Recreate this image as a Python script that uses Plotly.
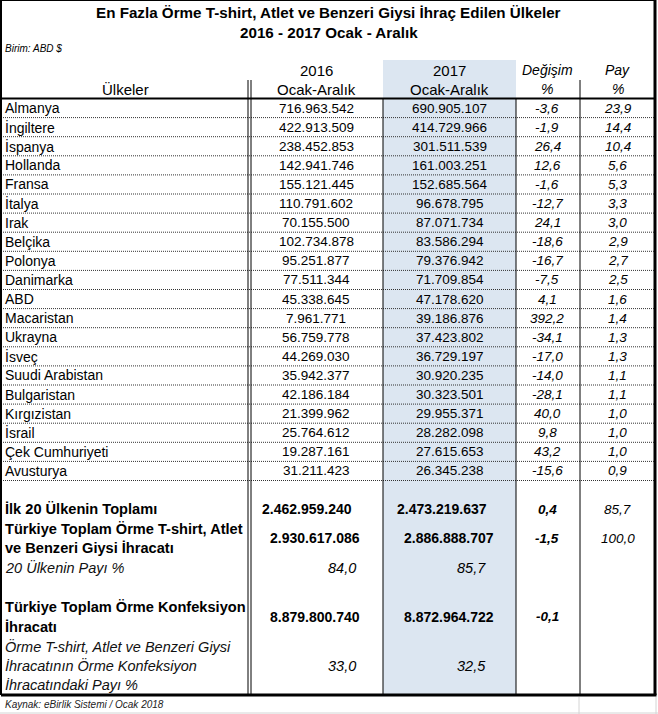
import plotly.graph_objects as go

# ---------------- data ----------------
title_1 = "En Fazla Örme T-shirt, Atlet ve Benzeri Giysi İhraç Edilen Ülkeler"
title_2 = "2016 - 2017 Ocak - Aralık"
unit_note = "Birim: ABD $"
source_note = "Kaynak: eBirlik Sistemi / Ocak 2018"

countries = ["Almanya", "İngiltere", "İspanya", "Hollanda", "Fransa", "İtalya", "Irak",
             "Belçika", "Polonya", "Danimarka", "ABD", "Macaristan", "Ukrayna", "İsveç",
             "Suudi Arabistan", "Bulgaristan", "Kırgızistan", "İsrail", "Çek Cumhuriyeti",
             "Avusturya"]
exports_2016 = [716963542, 422913509, 238452853, 142941746, 155121445, 110791602, 70155500,
                102734878, 95251877, 77511344, 45338645, 7961771, 56759778, 44269030,
                35942377, 42186184, 21399962, 25764612, 19287161, 31211423]
exports_2017 = [690905107, 414729966, 301511539, 161003251, 152685564, 96678795, 87071734,
                83586294, 79376942, 71709854, 47178620, 39186876, 37423802, 36729197,
                30920235, 30323501, 29955371, 28282098, 27615653, 26345238]
change_pct = [-3.6, -1.9, 26.4, 12.6, -1.6, -12.7, 24.1, -18.6, -16.7, -7.5, 4.1, 392.2,
              -34.1, -17.0, -14.0, -28.1, 40.0, 9.8, 43.2, -15.6]
share_pct = [23.9, 14.4, 10.4, 5.6, 5.3, 3.3, 3.0, 2.9, 2.7, 2.5, 1.6, 1.4, 1.3, 1.3, 1.1,
             1.1, 1.0, 1.0, 1.0, 0.9]

top20_total = [2462959240, 2473219637]
top20_change = 0.4
top20_share = 85.7
turkey_total = [2930617086, 2886888707]
turkey_change = -1.5
turkey_share = 100.0
top20_share_of_total = [84.0, 85.7]
knit_apparel_total = [8879800740, 8872964722]
knit_apparel_change = -0.1
tshirt_share_of_knit = [33.0, 32.5]

header_years = ["2016", "2017"]
header_period = "Ocak-Aralık"


def fmt_int(v):
    return f"{v:,}".replace(",", ".")


def fmt_dec(v):
    return f"{v:.1f}".replace(".", ",")


# ---------------- layout geometry ----------------
W, H = 658, 714
X_L, X_C1, X_C2, X_C3, X_C4, X_R = 1, 249.5, 383, 516, 580, 655
HEAD_TOP, HEAD_BOT = 60, 98.5
ROW_H = 19.1
BOT_TOP, BOT_H = 509, 19.6
TABLE_BOT = 695

FONT = "Liberation Sans, Arial, sans-serif"
SHADE = "#dce6f1"

col_mid = {
    "name": 3,
    "y16": (X_C1 + X_C2) / 2,
    "y17": (X_C2 + X_C3) / 2,
    "chg": (X_C3 + X_C4) / 2 - 1,
    "pay": (X_C4 + X_R) / 2,
}

fig = go.Figure()
fig.add_trace(go.Scatter(x=[0, W], y=[0, H], mode="markers", marker=dict(opacity=0),
                         hoverinfo="skip", showlegend=False))

shapes = []
annots = []


def txt(x, y, s, size=14, xanchor="center", color="black"):
    annots.append(dict(x=x, y=y, xref="x", yref="y", text=s, showarrow=False,
                       xanchor=xanchor, yanchor="middle",
                       font=dict(family=FONT, size=size, color=color)))


def line(x0, y0, x1, y1, width=1, color="black", dash="solid"):
    shapes.append(dict(type="line", xref="x", yref="y", x0=x0, y0=y0, x1=x1, y1=y1,
                       line=dict(color=color, width=width, dash=dash), layer="above"))


# shaded 2017 column
shapes.append(dict(type="rect", xref="x", yref="y", x0=X_C2, x1=X_C3, y0=HEAD_TOP,
                   y1=TABLE_BOT, fillcolor=SHADE, line=dict(width=0), layer="below"))

# titles
txt(W / 2 - 1, 12, f"<b>{title_1}</b>", size=15.2)
txt(W / 2, 32, f"<b>{title_2}</b>", size=15.2)
txt(3, 48, f"<i>{unit_note}</i>", size=10, xanchor="left")

# header
txt(col_mid["y16"], 70, header_years[0], size=15)
txt(col_mid["y16"], 89, header_period, size=15)
txt(col_mid["y17"], 70, header_years[1], size=15)
txt(col_mid["y17"], 89, header_period, size=15)
txt(col_mid["chg"], 70, "<i>Değişim</i>", size=14)
txt(col_mid["chg"], 89, "<i>%</i>", size=14)
txt(col_mid["pay"], 70, "<i>Pay</i>", size=14)
txt(col_mid["pay"], 89, "<i>%</i>", size=14)
txt(125, 89, "Ülkeler", size=15)

# country rows
for i, name in enumerate(countries):
    yc = HEAD_BOT + ROW_H * (i + 0.5)
    txt(col_mid["name"], yc, name, size=14, xanchor="left")
    txt(col_mid["y16"], yc, fmt_int(exports_2016[i]), size=13.5)
    txt(col_mid["y17"], yc, fmt_int(exports_2017[i]), size=13.5)
    txt(col_mid["chg"], yc, f"<i>{fmt_dec(change_pct[i])}</i>", size=13.5)
    txt(col_mid["pay"], yc, f"<i>{fmt_dec(share_pct[i])}</i>", size=13.5)
    line(X_L, HEAD_BOT + ROW_H * (i + 1), X_R, HEAD_BOT + ROW_H * (i + 1),
         width=1, color="#333", dash="1px,1px")

# summary block
bold_labels = {0: "İlk 20 Ülkenin Toplamı", 1: "Türkiye Toplam Örme T-shirt, Atlet",
               2: "ve Benzeri Giysi İhracatı", 5: "Türkiye Toplam Örme Konfeksiyon",
               6: "İhracatı"}
italic_labels = {3: "20 Ülkenin Payı %", 7: "Örme T-shirt, Atlet ve Benzeri Giysi",
                 8: "İhracatının Örme Konfeksiyon", 9: "İhracatındaki Payı %"}


def by(k):
    return BOT_TOP + BOT_H * k


for k, s in bold_labels.items():
    txt(3, by(k), f"<b>{s}</b>", size=14.6, xanchor="left")
for k, s in italic_labels.items():
    txt(3, by(k), f"<i>{s}</i>", size=14.5, xanchor="left", color="#111")

R16, R17 = 362, 496
txt(307, by(0), f"<b>{fmt_int(top20_total[0])}</b>", size=14)
txt(395, by(0), f"<b>{fmt_int(top20_total[1])}</b>", size=14, xanchor="left")
txt(col_mid["chg"], by(0), f"<b><i>{fmt_dec(top20_change)}</i></b>", size=13.5)
txt(col_mid["pay"], by(0), f"<i>{fmt_dec(top20_share)}</i>", size=13.5)

txt(R16, by(1.5), f"<b>{fmt_int(turkey_total[0])}</b>", size=14, xanchor="right")
txt(R17, by(1.5), f"<b>{fmt_int(turkey_total[1])}</b>", size=14, xanchor="right")
txt(col_mid["chg"], by(1.5), f"<b><i>{fmt_dec(turkey_change)}</i></b>", size=13.5)
txt(col_mid["pay"], by(1.5), f"<i>{fmt_dec(turkey_share)}</i>", size=13.5)

txt(R16 - 4, by(3), f"<i>{fmt_dec(top20_share_of_total[0])}</i>", size=14.5, xanchor="right")
txt(R17 - 8, by(3), f"<i>{fmt_dec(top20_share_of_total[1])}</i>", size=14.5, xanchor="right")

txt(R16, by(5.5), f"<b>{fmt_int(knit_apparel_total[0])}</b>", size=14, xanchor="right")
txt(R17, by(5.5), f"<b>{fmt_int(knit_apparel_total[1])}</b>", size=14, xanchor="right")
txt(col_mid["chg"], by(5.5), f"<b><i>{fmt_dec(knit_apparel_change)}</i></b>", size=13.5)

txt(R16 - 4, by(8), f"<i>{fmt_dec(tshirt_share_of_knit[0])}</i>", size=14.5, xanchor="right")
txt(R17 - 8, by(8), f"<i>{fmt_dec(tshirt_share_of_knit[1])}</i>", size=14.5, xanchor="right")

txt(3, 704, f"<i>{source_note}</i>", size=10, xanchor="left", color="#222")

# borders
line(X_L, 0, X_L, TABLE_BOT, width=2)
line(X_R, 0, X_R, TABLE_BOT, width=3)
line(X_L, 0.5, X_R, 0.5, width=1)
line(X_L, TABLE_BOT, X_R + 1.5, TABLE_BOT, width=3)
line(X_L, HEAD_BOT, X_R, HEAD_BOT, width=2)
line(X_C1 - 1.5, 80, X_C1 - 1.5, TABLE_BOT, width=1)
line(X_C1 + 1.5, 80, X_C1 + 1.5, TABLE_BOT, width=1)
line(X_C2, HEAD_BOT, X_C2, TABLE_BOT, width=1)
line(X_C3, HEAD_BOT, X_C3, TABLE_BOT, width=1)
line(X_C4, 80, X_C4, TABLE_BOT, width=1)

# faint spreadsheet grid under the table
line(X_C4 - 1, TABLE_BOT + 2, X_C4 - 1, H, width=1, color="#d4d4d4")
line(W - 2, TABLE_BOT + 2, W - 2, H, width=1, color="#d4d4d4")
line(0, H - 1, W, H - 1, width=1, color="#d4d4d4")

fig.update_layout(
    width=W, height=H,
    margin=dict(l=0, r=0, t=0, b=0),
    paper_bgcolor="white", plot_bgcolor="white",
    xaxis=dict(range=[0, W], visible=False, fixedrange=True),
    yaxis=dict(range=[H, 0], visible=False, fixedrange=True),
    shapes=shapes, annotations=annots,
    showlegend=False,
)

fig.write_html("out.html", config={"displayModeBar": False},
               post_script="document.body.style.margin='0';document.body.style.overflow='hidden';")
